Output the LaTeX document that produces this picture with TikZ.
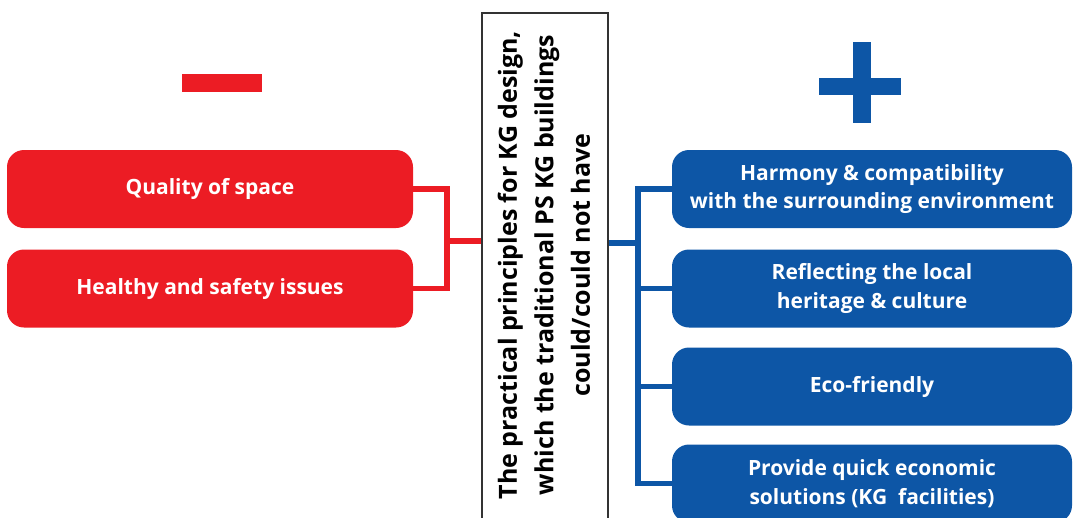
\documentclass[tikz,border=0pt]{standalone}
\usepackage{fontspec}
\setmainfont{Open Sans}
\definecolor{kgred}{HTML}{EC1C24}
\definecolor{kgblue}{HTML}{0D56A6}
\begin{document}
\begin{tikzpicture}[x=1pt,y=-1pt,
  redbox/.style={fill=kgred, rounded corners=17pt, minimum width=406pt, minimum height=78pt, text=white, font=\bfseries\fontsize{21}{26}\selectfont, align=center, inner sep=0pt},
  bluebox/.style={fill=kgblue, rounded corners=17pt, minimum width=400pt, minimum height=78pt, text=white, font=\bfseries\fontsize{21}{28.5}\selectfont, align=center, inner sep=0pt},
  redline/.style={draw=kgred, line width=5.5pt},
  blueline/.style={draw=kgblue, line width=5.5pt},
  centerbox/.style={draw=black!80, line width=1.8pt, fill=white, minimum width=126pt, minimum height=530pt, anchor=north west, inner sep=0pt}
]
\useasboundingbox (0,0) rectangle (1073,517);
% central box
\node[centerbox] (c) at (481,12) {};
\node[rotate=90, align=center, font=\bfseries\fontsize{25}{36.5}\selectfont] (ct) at (544,265) {The practical principles for KG design,\\which the traditional PS KG buildings\\could/could not have};
% minus and plus
\fill[kgred] (182,74) rectangle (262,92);
\fill[kgblue] (819,78) rectangle (901,95);
\fill[kgblue] (853,42) rectangle (871,123);
% red boxes
\node[redbox] (q) at (210,189) {Quality of space};
\node[redbox] (h) at (210,288.5) {Healthy and safety issues};
\coordinate (rj) at (447,241);
\draw[redline] (q.east) -| (rj);
\draw[redline] (h.east) -| (rj);
\draw[redline] (rj) -- (c.west |- rj);
% blue boxes
\node[bluebox] (b1) at (872,189) {Harmony \& compatibility\\with the surrounding environment};
\node[bluebox] (b2) at (872,288.5) {Reflecting the local\\heritage \& culture};
\node[bluebox] (b3) at (872,386.5) {Eco-friendly};
\node[bluebox] (b4) at (872,483.5) {Provide quick economic\\solutions (KG\ \ facilities)};
\coordinate (bj) at (638,243);
\draw[blueline] (c.east |- bj) -- (bj);
\draw[blueline] (b1.west) -| (bj);
\draw[blueline] (b2.west) -| (bj);
\draw[blueline] (b3.west) -| (bj);
\draw[blueline] (b4.west) -| (bj);
\end{tikzpicture}
\end{document}
